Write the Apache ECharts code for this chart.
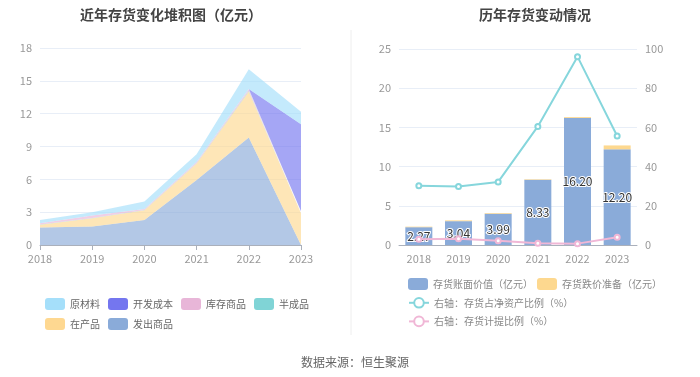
<!DOCTYPE html>
<html>
<head>
<meta charset="utf-8">
<script src="https://cdn.jsdelivr.net/npm/echarts@6/dist/echarts.min.js"></script>
<style>
  html, body { margin: 0; padding: 0; background: #fff; }
  #chart { width: 700px; height: 377px; }
</style>
</head>
<body>
<div id="chart"></div>
<script>
  // 年份
  const years = ['2018', '2019', '2020', '2021', '2022', '2023']

  // 左图：存货构成（亿元）
  const yuanCaiLiao = [0.30, 0.30, 0.68, 0.72, 1.80, 1.15]
  const kaiFaChengBen = [0, 0, 0, 0, 0, 7.95]
  const kuCunShangPin = [0.12, 0.24, 0.10, 0.10, 0.15, 0.15]
  const banChengPin = [0.02, 0.02, 0.02, 0.03, 0.08, 0.03]
  const zaiChanPin = [0.25, 0.76, 0.88, 1.50, 4.20, 2.90]
  const faChuShangPin = [1.60, 1.68, 2.29, 5.95, 9.82, 0]

  // 右图
  const bookValue = [2.27, 3.04, 3.99, 8.33, 16.20, 12.20]
  const provision = [0.07, 0.10, 0.09, 0.07, 0.11, 0.50]
  const ratioNetAsset = [30.2, 29.8, 32.2, 60.5, 96.1, 55.6]
  const ratioProvision = [2.9, 3.2, 2.2, 0.85, 0.7, 3.9]

  const leftTicks = { min: 0, max: 18, interval: 3 }
  const rightTicks = { min: 0, max: 25, interval: 5 }
  const rightTicks2 = { min: 0, max: 100, interval: 20 }

  const axisLabel = { color: '#999', fontSize: 11 }
  const splitLine = { lineStyle: { color: '#e8eef7' } }
  const axisLine = { lineStyle: { color: '#aab0bb' } }

  function area(name, data, color) {
    return {
      name: name,
      type: 'line',
      stack: 'total',
      xAxisIndex: 0,
      yAxisIndex: 0,
      data: data,
      symbol: 'none',
      color: color,
      lineStyle: { width: 0 },
      areaStyle: { color: color, opacity: 0.65 }
    }
  }

  const chart = echarts.init(document.getElementById('chart'))
  chart.setOption({
    animation: false,
    textStyle: { fontFamily: '"Noto Sans CJK SC", "Noto Sans", sans-serif' },
    title: [
      {
        text: '近年存货变化堆积图（亿元）',
        left: 166, top: 3, textAlign: 'center',
        textStyle: { fontSize: 14, fontWeight: 'bold', color: '#444' }
      },
      {
        text: '历年存货变动情况',
        left: 530, top: 3, textAlign: 'center',
        textStyle: { fontSize: 14, fontWeight: 'bold', color: '#444' }
      },
      {
        text: '数据来源：恒生聚源',
        left: 350, top: 351, textAlign: 'center',
        textStyle: { fontSize: 12, fontWeight: 'normal', color: '#666' }
      }
    ],
    graphic: [
      {
        type: 'line',
        shape: { x1: 351, y1: 30, x2: 351, y2: 335 },
        style: { stroke: '#eeeeee', lineWidth: 1 }
      }
    ],
    legend: [
      {
        data: ['原材料', '开发成本', '库存商品', '半成品', '在产品', '发出商品'],
        left: 40, top: 293, width: 272,
        icon: 'roundRect',
        itemWidth: 20, itemHeight: 12, itemGap: 8,
        textStyle: { fontSize: 10, color: '#666' }
      },
      {
        data: ['存货账面价值（亿元）', '存货跌价准备（亿元）'],
        left: 403, top: 273,
        icon: 'roundRect',
        itemWidth: 20, itemHeight: 12, itemGap: 4,
        textStyle: { fontSize: 10, color: '#888' }
      },
      {
        data: ['右轴：存货占净资产比例（%）', '右轴：存货计提比例（%）'],
        left: 403, top: 292, orient: 'vertical',
        itemWidth: 20, itemHeight: 12, itemGap: 7,
        textStyle: { fontSize: 10, color: '#888' }
      }
    ],
    grid: [
      { left: 40, right: 399, top: 48, bottom: 132 },
      { left: 399, right: 63, top: 49, bottom: 132 }
    ],
    xAxis: [
      {
        type: 'category', gridIndex: 0, data: years, boundaryGap: false,
        axisLabel: axisLabel, axisLine: axisLine, axisTick: { lineStyle: { color: '#aab0bb' } }
      },
      {
        type: 'category', gridIndex: 1, data: years,
        axisLabel: axisLabel, axisLine: axisLine, axisTick: { show: false }
      }
    ],
    yAxis: [
      Object.assign({ type: 'value', gridIndex: 0, axisLabel: axisLabel, splitLine: splitLine }, leftTicks),
      Object.assign({ type: 'value', gridIndex: 1, axisLabel: axisLabel, splitLine: splitLine }, rightTicks),
      Object.assign({ type: 'value', gridIndex: 1, position: 'right', axisLabel: axisLabel, splitLine: { show: false } }, rightTicks2)
    ],
    series: [
      area('发出商品', faChuShangPin, '#8aabd9'),
      area('在产品', zaiChanPin, '#fed891'),
      area('半成品', banChengPin, '#80d4d6'),
      area('库存商品', kuCunShangPin, '#e8b6d8'),
      area('开发成本', kaiFaChengBen, '#7476ef'),
      area('原材料', yuanCaiLiao, '#a5dffa'),
      {
        name: '存货账面价值（亿元）',
        type: 'bar',
        stack: 'inv',
        xAxisIndex: 1,
        yAxisIndex: 1,
        data: bookValue,
        barWidth: 27,
        color: '#8aabd9',
        label: {
          show: true,
          position: 'inside',
          formatter: p => p.value.toFixed(2),
          color: '#333',
          fontSize: 12,
          textBorderColor: '#fff',
          textBorderWidth: 2
        }
      },
      {
        name: '存货跌价准备（亿元）',
        type: 'bar',
        stack: 'inv',
        xAxisIndex: 1,
        yAxisIndex: 1,
        data: provision,
        barWidth: 27,
        color: '#fdd88f'
      },
      {
        name: '右轴：存货占净资产比例（%）',
        type: 'line',
        xAxisIndex: 1,
        yAxisIndex: 2,
        data: ratioNetAsset,
        color: '#86d6dc',
        symbol: 'emptyCircle',
        symbolSize: 5,
        lineStyle: { width: 2 }
      },
      {
        name: '右轴：存货计提比例（%）',
        type: 'line',
        xAxisIndex: 1,
        yAxisIndex: 2,
        data: ratioProvision,
        color: '#f0b7d6',
        symbol: 'emptyCircle',
        symbolSize: 5,
        lineStyle: { width: 2 }
      }
    ]
  })
</script>
</body>
</html>
